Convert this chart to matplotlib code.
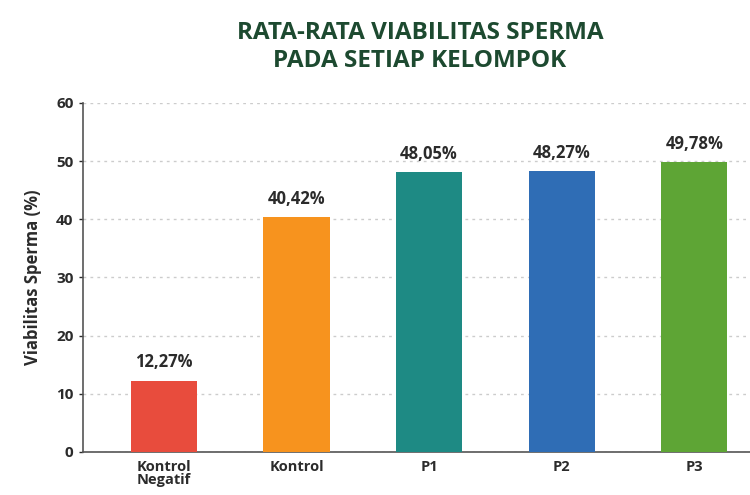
import matplotlib
matplotlib.use("Agg")
import matplotlib.pyplot as plt

categories = ["Kontrol\nNegatif", "Kontrol", "P1", "P2", "P3"]
values = [12.27, 40.42, 48.05, 48.27, 49.78]
labels = ["12,27%", "40,42%", "48,05%", "48,27%", "49,78%"]
colors = ["#e84c3d", "#f7931e", "#1e8a84", "#2f6db5", "#5ea535"]
yticks = [0, 10, 20, 30, 40, 50, 60]

plt.rcParams['font.family'] = ['Open Sans', 'DejaVu Sans']

fig = plt.figure(figsize=(7.5, 4.95), dpi=100)
ax = fig.add_axes([0.111, 0.087, 0.889, 0.705])

x = list(range(len(categories)))
ax.bar(x, values, width=0.5, color=colors, zorder=3)
for xi, v, lab in zip(x, values, labels):
    ax.text(xi, v + 1.6, lab, ha='center', va='bottom', fontsize=12,
            fontweight='bold', color='#2b2b2b', zorder=4)

ax.set_xlim(-0.608, 4.42)
ax.set_ylim(0, 60)
ax.set_yticks(yticks)
ax.set_xticks(x)
ax.set_xticklabels(categories, fontsize=10.5, fontweight='bold', color='#2b2b2b',
                   linespacing=0.9)
ax.tick_params(axis='y', labelsize=11, colors='#2b2b2b', length=3, width=1, pad=4)
ax.tick_params(axis='x', length=0, pad=6)
for t in ax.get_yticklabels():
    t.set_fontweight('bold')
ax.set_ylabel("Viabilitas Sperma (%)", fontsize=12, fontweight='bold',
              color='#2b2b2b', labelpad=10)
ax.grid(axis='y', linestyle=(0, (2, 3)), color='#cccccc', linewidth=1, zorder=0)
for s in ['top', 'right']:
    ax.spines[s].set_visible(False)
ax.spines['left'].set_color('#555555')
ax.spines['bottom'].set_color('#555555')
ax.spines['left'].set_linewidth(1.2)
ax.spines['bottom'].set_linewidth(1.2)

fig.text(0.56, 0.905, "RATA-RATA VIABILITAS SPERMA\nPADA SETIAP KELOMPOK",
         ha='center', va='center', fontsize=17.5, fontweight='bold',
         color='#1d4a30', linespacing=1.2)

fig.savefig("out.png", dpi=100, facecolor='white')
